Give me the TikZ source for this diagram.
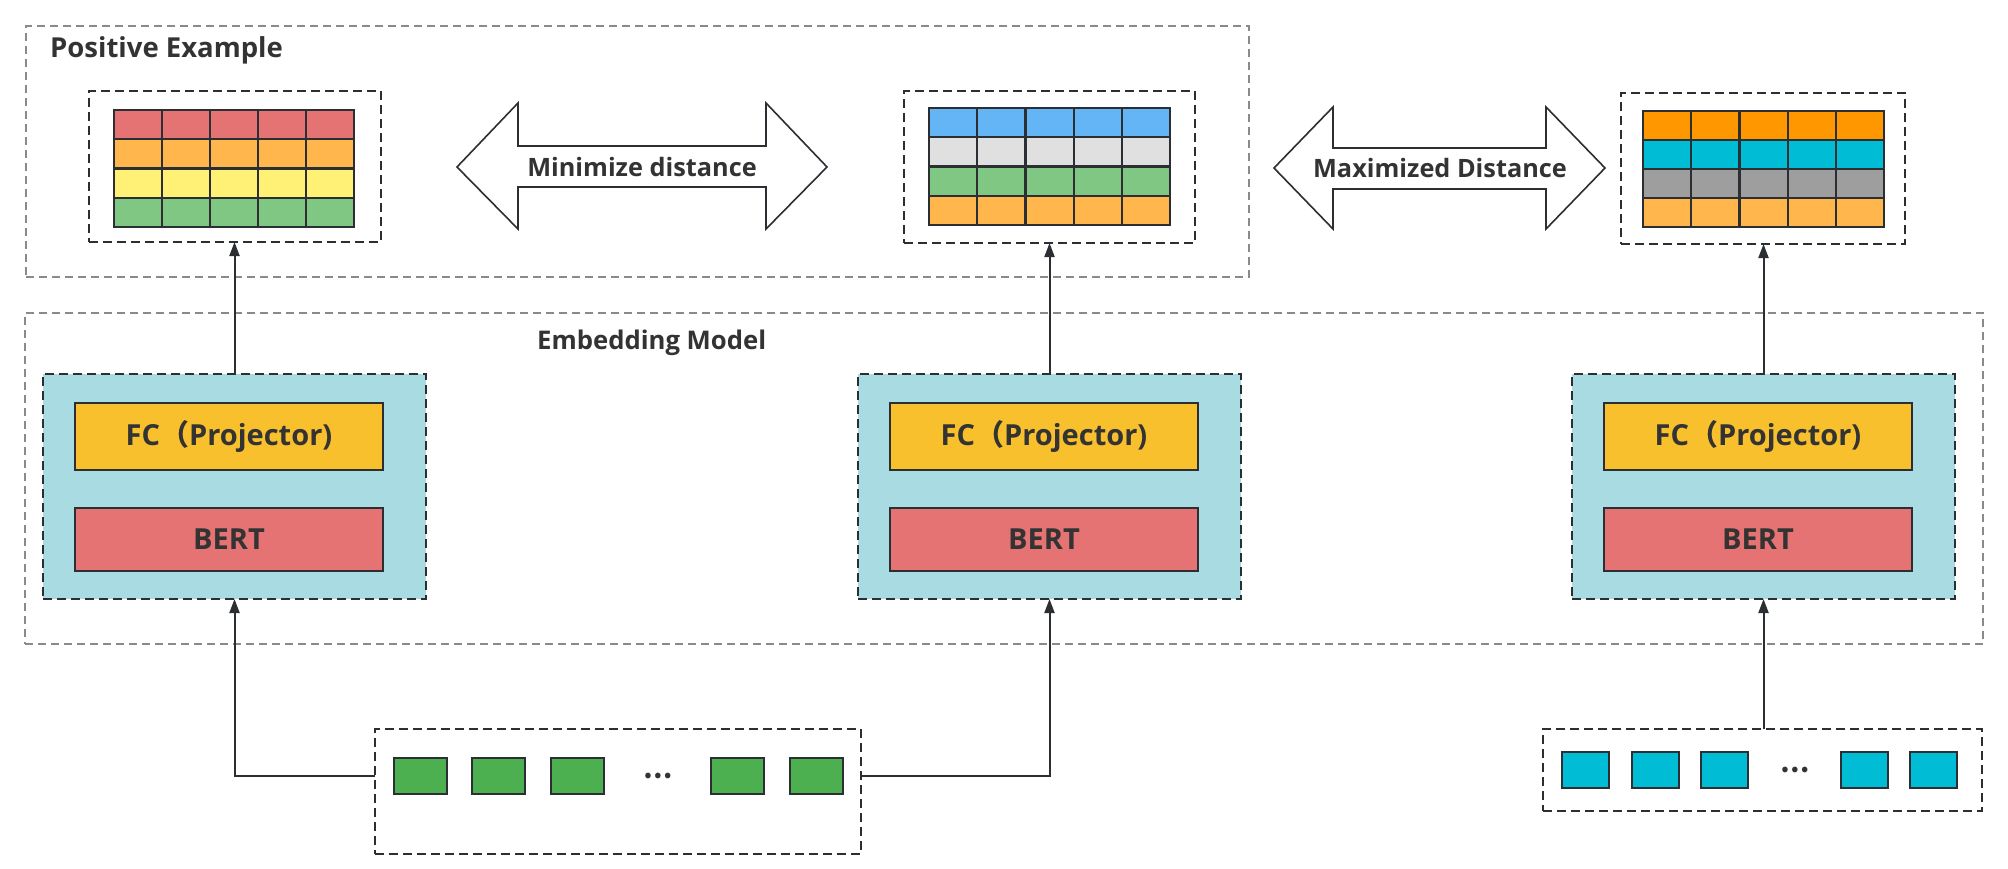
\documentclass[tikz,border=0pt]{standalone}
\usepackage{fontspec}
\setmainfont{Open Sans}
\newfontfamily\cjkfont{Noto Sans CJK SC}
\usetikzlibrary{arrows.meta}
\definecolor{txt}{HTML}{333333}
\definecolor{dline}{HTML}{2B2F33}
\definecolor{gline}{HTML}{8A8A8A}
\definecolor{modfill}{HTML}{A8DCE2}
\definecolor{fcfill}{HTML}{F9C02E}
\definecolor{bertfill}{HTML}{E57373}
\definecolor{cred}{HTML}{E57373}
\definecolor{corange}{HTML}{FFB74D}
\definecolor{cyellow}{HTML}{FFF176}
\definecolor{cgreen}{HTML}{81C784}
\definecolor{cblue}{HTML}{64B5F6}
\definecolor{clgray}{HTML}{E0E0E0}
\definecolor{cdorange}{HTML}{FF9800}
\definecolor{ccyan}{HTML}{00BCD4}
\definecolor{cgray}{HTML}{9E9E9E}
\definecolor{sqgreen}{HTML}{4CAF50}
\tikzset{
  rectnode/.style={rectangle, anchor=north west, inner sep=0pt, outer sep=0pt},
  outerbox/.style={rectnode, draw=gline, line width=1.5pt, dash pattern=on 8pt off 5pt},
  innerbox/.style={rectnode, draw=dline, line width=2pt, dash pattern=on 9pt off 5pt},
  modbox/.style={innerbox, fill=modfill, minimum width=383pt, minimum height=225pt},
  fcbox/.style={rectnode, draw=dline, line width=2pt, fill=fcfill, minimum width=308pt, minimum height=67pt},
  bertbox/.style={rectnode, draw=dline, line width=2pt, fill=bertfill, minimum width=308pt, minimum height=63pt},
  boxtext/.style={text=txt, font=\fontsize{29}{32}\selectfont\bfseries, inner sep=0pt},
  cell/.style={draw=dline, line width=2.2pt},
  greensq/.style={rectnode, draw=dline, line width=2pt, fill=sqgreen, minimum width=53pt, minimum height=36pt},
  cyansq/.style={rectnode, draw=dline, line width=2pt, fill=ccyan, minimum width=47pt, minimum height=36pt},
  dblarrow/.style={draw=dline, line width=1.6pt, fill=white, line join=miter},
  conn/.style={draw=dline, line width=2pt, -{Triangle[length=14pt,width=10pt]}},
  title/.style={font=\fontsize{27.5}{31}\selectfont\bfseries, text=txt, inner sep=0pt},
  subtitle/.style={font=\fontsize{25.7}{30}\selectfont\bfseries, text=txt, inner sep=0pt},
  arrowtext/.style={font=\fontsize{25.3}{28}\selectfont\bfseries, text=txt, inner sep=0pt},
  dots/.style={font=\fontsize{26}{26}\selectfont\cjkfont\bfseries, text=txt, inner sep=0pt}
}
\begin{document}
\begin{tikzpicture}[x=1pt,y=-1pt]
\useasboundingbox[fill=white] (0,0) rectangle (2008,868);

% outer groups
\node[outerbox, minimum width=1223pt, minimum height=251pt] (pos) at (26,26) {};
\node[outerbox, minimum width=1958pt, minimum height=331pt] (emb) at (25,313) {};
\node[title, anchor=base west] (postitle) at (50,57) {Positive Example};
\node[subtitle, anchor=base west] (embtitle) at (537,349) {Embedding Model};

% table boxes
\node[innerbox, minimum width=292pt, minimum height=151pt] (t1) at (89,91) {};
\node[innerbox, minimum width=291pt, minimum height=152pt] (t2) at (904,91) {};
\node[innerbox, minimum width=284pt, minimum height=151pt] (t3) at (1621,93) {};

% table grids
\foreach \r/\c in {0/cred,1/corange,2/cyellow,3/cgreen}
  \foreach \k in {0,...,4}
    \draw[cell, fill=\c] (114+\k*48, 110+\r*29.25) rectangle ++(48,29.25);
\foreach \r/\c in {0/cblue,1/clgray,2/cgreen,3/corange}
  \foreach \k in {0,...,4}
    \draw[cell, fill=\c] (929+\k*48.2, 108+\r*29.25) rectangle ++(48.2,29.25);
\foreach \r/\c in {0/cdorange,1/ccyan,2/cgray,3/corange}
  \foreach \k in {0,...,4}
    \draw[cell, fill=\c] (1643+\k*48.2, 111+\r*29) rectangle ++(48.2,29);

% double arrows
\draw[dblarrow] (457,167) -- (518,103) -- (518,146) -- (766,146) -- (766,103) -- (827,167)
  -- (766,229) -- (766,187) -- (518,187) -- (518,229) -- cycle;
\node[arrowtext] (mintext) at (642,167) {Minimize distance};
\draw[dblarrow] (1274,168) -- (1333,107) -- (1333,148) -- (1546,148) -- (1546,107) -- (1605,168)
  -- (1546,229) -- (1546,189) -- (1333,189) -- (1333,229) -- cycle;
\node[arrowtext] (maxtext) at (1440,168) {Maximized Distance};

% modules
\node[modbox] (m1) at (43,374) {};
\node[modbox] (m2) at (858,374) {};
\node[modbox] (m3) at (1572,374) {};
\foreach \n/\x in {1/75,2/890,3/1604}{
  \node[fcbox] (fc\n) at (\x,403) {};
  \node[boxtext] (fct\n) at (fc\n.center) {FC{\cjkfont （}Projector)};
  \node[bertbox] (bert\n) at (\x,508) {};
  \node[boxtext] (bertt\n) at (bert\n.center) {BERT};
}

% inputs
\node[innerbox, minimum width=486pt, minimum height=125pt] (in1) at (375,729) {};
\node[greensq] (a1) at (394,758) {};
\node[greensq] (a2) at (472,758) {};
\node[greensq] (a3) at (551,758) {};
\node[dots] (adots) at (658,776) {…};
\node[greensq] (a4) at (711,758) {};
\node[greensq] (a5) at (790,758) {};

\node[innerbox, minimum width=439pt, minimum height=82pt] (in2) at (1543,729) {};
\node[cyansq] (b1) at (1562,752) {};
\node[cyansq] (b2) at (1632,752) {};
\node[cyansq] (b3) at (1701,752) {};
\node[dots] (bdots) at (1795,770) {…};
\node[cyansq] (b4) at (1841,752) {};
\node[cyansq] (b5) at (1910,752) {};

% connectors
\draw[conn] (m1.north) -- (t1.south -| m1.north);
\draw[conn] (m2.north) -- (t2.south -| m2.north);
\draw[conn] (m3.north) -- (t3.south -| m3.north);
\draw[conn] (in1.west |- a1.center) -| (m1.south);
\draw[conn] (in1.east |- a1.center) -| (m2.south);
\draw[conn] (in2.north -| m3.south) -- (m3.south);
\end{tikzpicture}
\end{document}
